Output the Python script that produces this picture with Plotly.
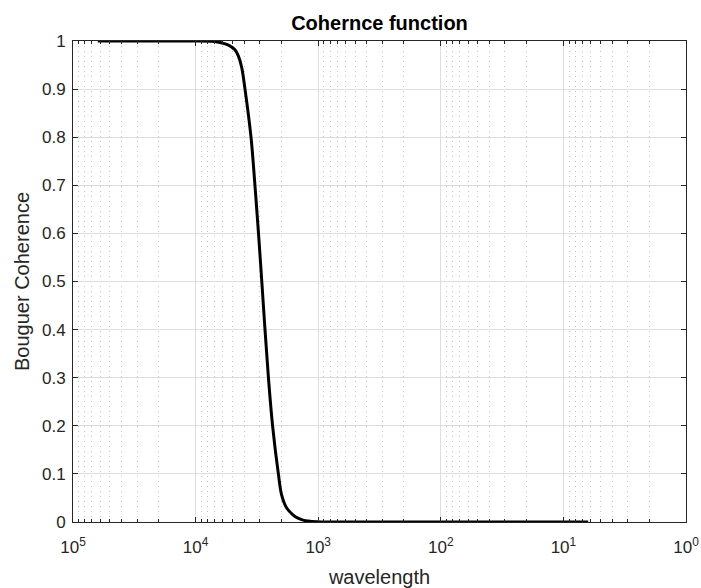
import plotly.graph_objects as go

# Data
wavelength = [62832, 30000, 15000, 9200, 7500, 6950, 6310, 5445, 4775, 4467, 4207, 3954,
              3532, 3281, 3069, 2884, 2716, 2547, 2355, 2113, 1986, 1807, 1607,
              1462, 1330, 1211, 1028, 800, 316, 100, 30, 6.283]
coherence = [1.0, 1.0, 1.0, 1.0, 0.9995, 0.999, 0.997, 0.992, 0.982, 0.968, 0.945, 0.9,
             0.8, 0.7, 0.6, 0.5, 0.4, 0.3, 0.2, 0.1, 0.056, 0.029, 0.015,
             0.008, 0.004, 0.002, 0.0005, 0.0, 0.0, 0.0, 0.0, 0.0]

x_tick_vals = [1e5, 1e4, 1e3, 1e2, 1e1, 1e0]
x_tick_text = ["10<sup>5</sup>", "10<sup>4</sup>", "10<sup>3</sup>",
               "10<sup>2</sup>", "10<sup>1</sup>", "10<sup>0</sup>"]
y_tick_vals = [0, 0.1, 0.2, 0.3, 0.4, 0.5, 0.6, 0.7, 0.8, 0.9, 1]
y_tick_text = ["0", "0.1", "0.2", "0.3", "0.4", "0.5", "0.6", "0.7", "0.8", "0.9", "1"]

minor_vals = [m * 10 ** d for d in range(0, 5) for m in range(2, 10)]

FONT = "Liberation Sans, Arial, Helvetica, sans-serif"
AX = "#262626"

fig = go.Figure()
fig.add_trace(go.Scatter(
    x=wavelength, y=coherence, mode="lines",
    line=dict(color="black", width=3, shape="spline", smoothing=1.0),
    showlegend=False, hoverinfo="skip",
))

fig.update_layout(
    width=701, height=588,
    margin=dict(l=73, r=15, t=41, b=66),
    paper_bgcolor="white", plot_bgcolor="white",
    font=dict(family=FONT, color=AX, size=17),
    title=dict(text="<b>Cohernce function</b>", x=0.5, xref="paper",
               xanchor="center", y=1, yref="paper", yanchor="bottom",
               pad=dict(b=11), font=dict(size=20, color="black", family=FONT),
               automargin=False),
)

fig.update_xaxes(
    type="log", range=[5, 0], autorange=False, automargin=False,
    tickvals=x_tick_vals, ticktext=x_tick_text,
    ticks="inside", ticklen=5, tickwidth=1, tickcolor=AX,
    showline=True, linecolor=AX, linewidth=1, mirror="allticks",
    showgrid=True, gridcolor="#dedede", gridwidth=1,
    minor=dict(tickvals=minor_vals, ticks="inside", ticklen=3, tickcolor=AX,
               showgrid=True, gridcolor="#c4c4c4", griddash="1px,4px", gridwidth=1),
    tickfont=dict(size=17, color=AX, family=FONT),
    ticklabelstandoff=10,
    title=dict(text="wavelength", font=dict(size=20, color=AX, family=FONT), standoff=14),
    zeroline=False,
)
fig.update_yaxes(
    range=[0, 1], autorange=False, automargin=False,
    tickvals=y_tick_vals, ticktext=y_tick_text,
    ticks="inside", ticklen=5, tickwidth=1, tickcolor=AX,
    showline=True, linecolor=AX, linewidth=1, mirror="allticks",
    showgrid=True, gridcolor="#dedede", gridwidth=1,
    tickfont=dict(size=17, color=AX, family=FONT),
    ticklabelstandoff=3,
    title=dict(text="Bouguer Coherence", font=dict(size=20, color=AX, family=FONT), standoff=6),
    zeroline=False,
)

fig.write_html("out.html")
